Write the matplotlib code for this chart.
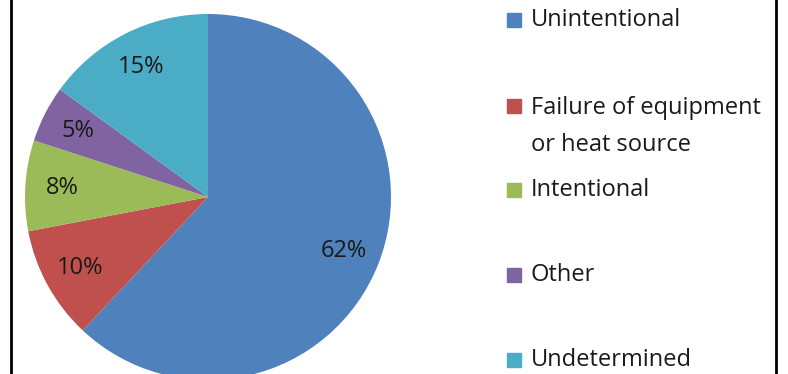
import matplotlib
matplotlib.use("Agg")
import matplotlib.pyplot as plt
from matplotlib.lines import Line2D
from matplotlib.patches import Rectangle

categories = ["Unintentional", "Failure of equipment\nor heat source", "Intentional", "Other", "Undetermined"]
shares = [62, 10, 8, 5, 15]
colors = ["#4F81BD", "#C0504D", "#9BBB59", "#8064A2", "#4BACC6"]

W, H = 788, 374
fig = plt.figure(figsize=(W / 100, H / 100), dpi=100)
plt.rcParams['font.family'] = ['Open Sans', 'DejaVu Sans']

# pie centred at (208, 197) px, radius 183 px
cx, cy, r = 208, 197, 183
ax = fig.add_axes([(cx - r) / W, (H - cy - r) / H, 2 * r / W, 2 * r / H])
wedges, texts, autotexts = ax.pie(shares, colors=colors, startangle=90, counterclock=False,
                                  autopct='%1.0f%%', pctdistance=0.8, radius=1,
                                  textprops={'fontsize': 17, 'color': '#1a1a1a'})
ax.set_xlim(-1, 1)
ax.set_ylim(-1, 1)
ax.set_aspect('equal')
ax.axis('off')

# legend drawn by hand to follow the spreadsheet layout
entry_y = [20, 106, 190, 275, 360]
for label, col, y in zip(categories, colors, entry_y):
    fig.add_artist(Rectangle((507 / W, 1 - (y + 7) / H), 14 / W, 14 / H,
                             transform=fig.transFigure, color=col))
    if '\n' in label:
        fig.text(531 / W, 1 - (y - 10) / H, label, fontsize=17, color='#1a1a1a',
                 va='top', ha='left', linespacing=1.7)
    else:
        fig.text(531 / W, 1 - y / H, label, fontsize=17, color='#1a1a1a',
                 va='center', ha='left')

# frame lines at left and right
for x in (11, 776):
    fig.add_artist(Line2D([x / W, x / W], [0, 1], transform=fig.transFigure, color='black', lw=2))

fig.savefig('out.png', dpi=100)
